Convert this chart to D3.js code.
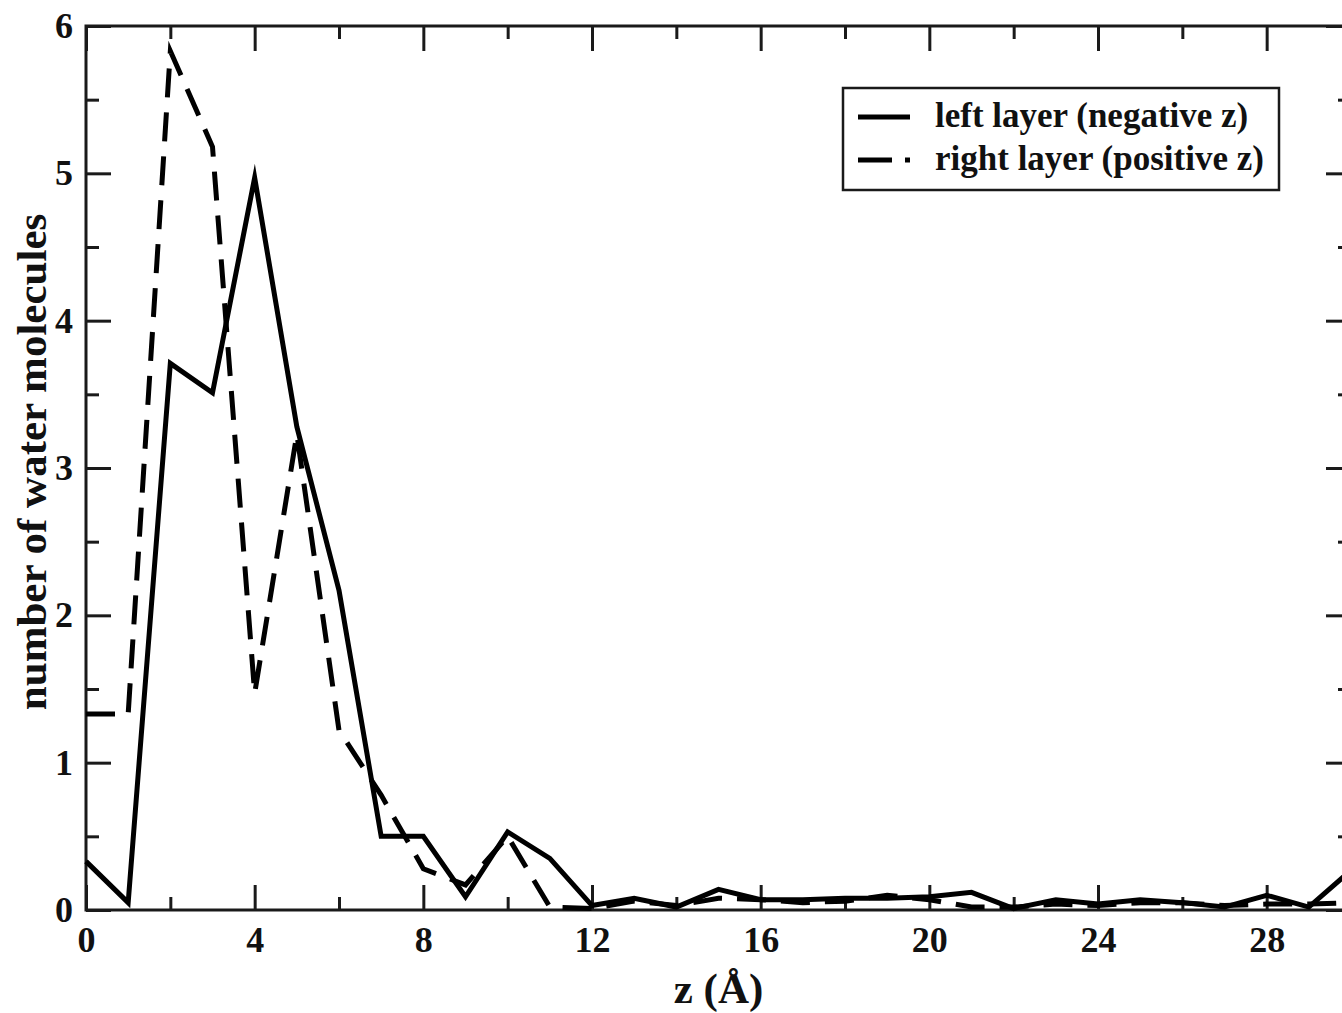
<!DOCTYPE html>
<html>
<head>
<meta charset="utf-8">
<script src="https://cdn.jsdelivr.net/npm/d3@7"></script>
<style>
  html, body { margin: 0; padding: 0; background: #fff; overflow: hidden; }
  svg { display: block; }
  text { font-family: "Liberation Serif", "Times New Roman", serif; font-weight: bold; fill: #111; }
</style>
</head>
<body>
<script>
// ---- data ----
const zValues = [0,1,2,3,4,5,6,7,8,9,10,11,12,13,14,15,16,17,18,19,20,21,22,23,24,25,26,27,28,29,30];
const leftLayer = [0.33,0.05,3.71,3.51,4.97,3.28,2.17,0.50,0.50,0.09,0.53,0.35,0.03,0.08,0.02,0.14,0.07,0.07,0.08,0.08,0.09,0.12,0.01,0.07,0.04,0.07,0.05,0.02,0.10,0.02,0.27];
const rightLayer = [1.33,1.33,5.83,5.18,1.47,3.23,1.22,0.78,0.28,0.17,0.50,0.02,0.01,0.06,0.03,0.08,0.07,0.05,0.06,0.10,0.07,0.02,0.02,0.04,0.03,0.05,0.05,0.03,0.04,0.04,0.05];
const xMajorTicks = [0,4,8,12,16,20,24,28];
const xMinorTicks = [2,6,10,14,18,22,26,30];
const yMajorTicks = [0,1,2,3,4,5,6];
const yMinorTicks = [0.5,1.5,2.5,3.5,4.5,5.5];
const legendLabels = ["left layer (negative z)", "right layer (positive z)"];
const xLabel = "z (Å)";
const yLabel = "number of water molecules";

// ---- layout ----
const W = 1342, H = 1013;
const x = d3.scaleLinear().domain([0, 30]).range([86, 1351]);
const y = d3.scaleLinear().domain([0, 6]).range([910, 26]);
const ink = "#1a1a1a";

const svg = d3.select("body").append("svg").attr("width", W).attr("height", H);

function styleAxis(g) {
  g.select(".domain").remove();
  g.selectAll(".tick line").attr("stroke", ink).attr("stroke-width", 3);
  g.selectAll(".tick text").attr("font-size", 36).attr("font-family", "Liberation Serif").attr("font-weight", "bold").attr("fill", "#111");
}
const majorLen = 25, minorLen = 13;

svg.append("g").attr("transform", `translate(0,${y(0)})`)
  .call(d3.axisBottom(x).tickValues(xMajorTicks).tickSize(-majorLen).tickSizeOuter(0).tickPadding(16).tickFormat(d3.format("d")))
  .call(styleAxis);
svg.append("g").attr("transform", `translate(0,${y(0)})`)
  .call(d3.axisBottom(x).tickValues(xMinorTicks).tickSize(-minorLen).tickSizeOuter(0).tickFormat(""))
  .call(styleAxis);
svg.append("g").attr("transform", `translate(0,${y(6)})`)
  .call(d3.axisTop(x).tickValues(xMajorTicks).tickSize(-majorLen).tickSizeOuter(0).tickFormat(""))
  .call(styleAxis);
svg.append("g").attr("transform", `translate(0,${y(6)})`)
  .call(d3.axisTop(x).tickValues(xMinorTicks).tickSize(-minorLen).tickSizeOuter(0).tickFormat(""))
  .call(styleAxis);

svg.append("g").attr("transform", `translate(${x(0)},0)`)
  .call(d3.axisLeft(y).tickValues(yMajorTicks).tickSize(-majorLen).tickSizeOuter(0).tickPadding(13).tickFormat(d3.format("d")))
  .call(styleAxis);
svg.append("g").attr("transform", `translate(${x(0)},0)`)
  .call(d3.axisLeft(y).tickValues(yMinorTicks).tickSize(-minorLen).tickSizeOuter(0).tickFormat(""))
  .call(styleAxis);
svg.append("g").attr("transform", `translate(${x(30)},0)`)
  .call(d3.axisRight(y).tickValues(yMajorTicks).tickSize(-majorLen).tickSizeOuter(0).tickFormat(""))
  .call(styleAxis);
svg.append("g").attr("transform", `translate(${x(30)},0)`)
  .call(d3.axisRight(y).tickValues(yMinorTicks).tickSize(-minorLen).tickSizeOuter(0).tickFormat(""))
  .call(styleAxis);

// frame
svg.append("rect")
  .attr("x", x(0)).attr("y", y(6))
  .attr("width", x(30) - x(0)).attr("height", y(0) - y(6))
  .attr("fill", "none").attr("stroke", ink).attr("stroke-width", 3);

// series
const line = d3.line().x((d, i) => x(zValues[i])).y(d => y(d));
svg.append("path").datum(rightLayer)
  .attr("d", line).attr("fill", "none").attr("stroke", "#000")
  .attr("stroke-width", 5).attr("stroke-dasharray", "29,15")
  .attr("stroke-linejoin", "miter").attr("stroke-miterlimit", 10);
svg.append("path").datum(leftLayer)
  .attr("d", line).attr("fill", "none").attr("stroke", "#000")
  .attr("stroke-width", 5)
  .attr("stroke-linejoin", "miter").attr("stroke-miterlimit", 10);

// axis labels
svg.append("text").attr("x", x(15)).attr("y", 1003)
  .attr("text-anchor", "middle").attr("font-size", 43).text(xLabel);
svg.append("text").attr("transform", `translate(46,${y(3) - 6}) rotate(-90)`)
  .attr("text-anchor", "middle").attr("font-size", 43).text(yLabel);

// legend
const lg = svg.append("g");
lg.append("rect").attr("x", 843).attr("y", 88).attr("width", 436).attr("height", 102)
  .attr("fill", "#fff").attr("stroke", ink).attr("stroke-width", 2.5);
lg.append("line").attr("x1", 858).attr("x2", 910).attr("y1", 117).attr("y2", 117)
  .attr("stroke", "#000").attr("stroke-width", 5);
lg.append("line").attr("x1", 858).attr("x2", 910).attr("y1", 160).attr("y2", 160)
  .attr("stroke", "#000").attr("stroke-width", 5).attr("stroke-dasharray", "34,13");
lg.append("text").attr("x", 935).attr("y", 127).attr("font-size", 35).text(legendLabels[0]);
lg.append("text").attr("x", 935).attr("y", 170).attr("font-size", 35).text(legendLabels[1]);
</script>
</body>
</html>
